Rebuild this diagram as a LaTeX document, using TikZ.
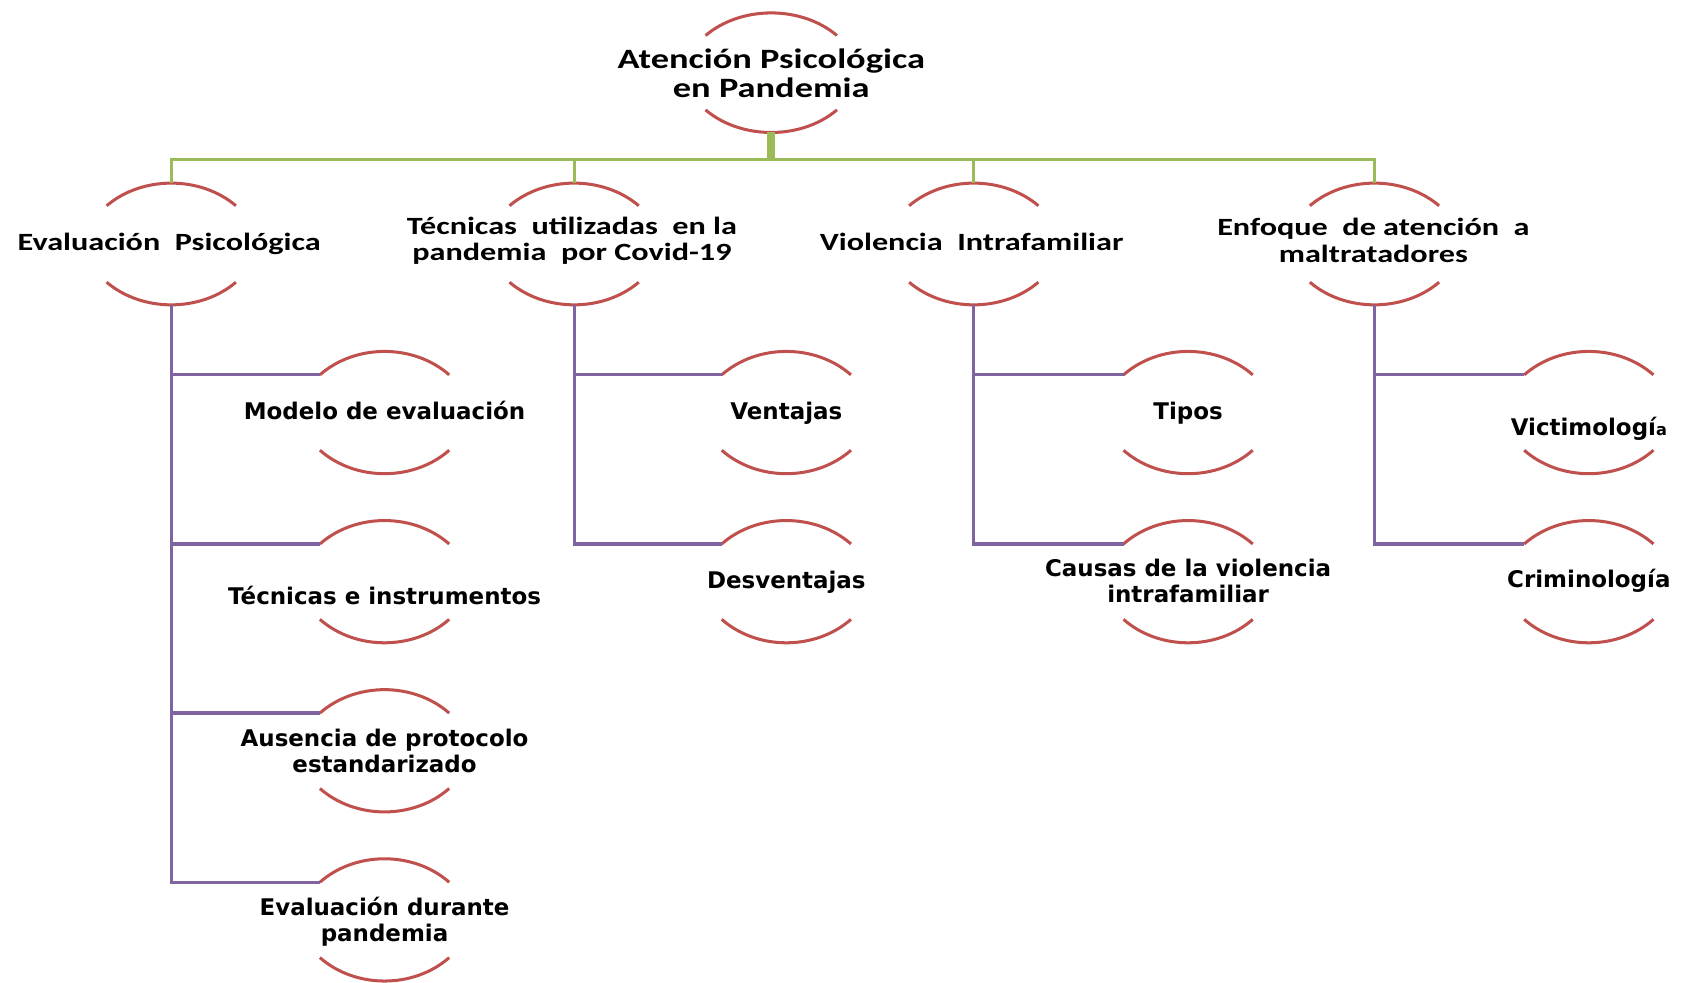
\documentclass[tikz,border=0pt]{standalone}
\usepackage{fontspec}
\newfontfamily\calb{Carlito}[FakeStretch=1.3]
\newfontfamily\vera{DejaVu Sans}
\definecolor{arcred}{RGB}{192,80,77}
\definecolor{busgreen}{RGB}{155,187,89}
\definecolor{branchpurple}{RGB}{128,100,162}
\newcommand\archpair[3]{%
  \draw[arcline] ([yshift=-#2pt]#1.north west) .. controls +(33pt,#3pt) and +(-33pt,#3pt) .. ([yshift=-#2pt]#1.north east);
  \draw[arcline] ([yshift=#2pt]#1.south west) .. controls +(33pt,-#3pt) and +(-33pt,-#3pt) .. ([yshift=#2pt]#1.south east);}
\begin{document}
\begin{tikzpicture}[x=1pt,y=-1pt,
  frame/.style={draw=none, inner sep=0pt, outer sep=0pt, minimum width=120pt, minimum height=114pt},
  topframe/.style={frame, minimum width=122pt, minimum height=111pt},
  lvlframe/.style={frame, minimum height=113pt},
  arcline/.style={draw=arcred, line width=2.8pt},
  bus/.style={draw=busgreen, line width=3pt},
  stem/.style={draw=busgreen, line width=7pt},
  branch/.style={draw=branchpurple, line width=3pt},
  toptext/.style={font=\calb\bfseries\fontsize{26}{27}\selectfont, align=center, inner sep=0pt},
  headtext/.style={font=\calb\bfseries\fontsize{23}{25}\selectfont, align=center, inner sep=0pt},
  leaftext/.style={font=\vera\bfseries\fontsize{21.3}{24}\selectfont, align=center, inner sep=0pt},
]
\fill[white] (0,0) rectangle (1568,912);
\useasboundingbox (0,0) rectangle (1568,912);

% frames
\node[topframe] (top) at (716,67.5) {};
\node[lvlframe] (A) at (159,226.5) {};
\node[lvlframe] (B) at (533,226.5) {};
\node[lvlframe] (C) at (904,226.5) {};
\node[lvlframe] (D) at (1276,226.5) {};
\node[frame] (A1) at (357,383) {};
\node[frame] (A2) at (357,540) {};
\node[frame] (A3) at (357,697) {};
\node[frame] (A4) at (357,854) {};
\node[frame] (B1) at (730,383) {};
\node[frame] (B2) at (730,540) {};
\node[frame] (C1) at (1103,383) {};
\node[frame] (C2) at (1103,540) {};
\node[frame] (D1) at (1475,383) {};
\node[frame] (D2) at (1475,540) {};

% arcs
\archpair{top}{21}{28}
\foreach \n in {A,B,C,D} {\archpair{\n}{21}{28}}
\foreach \n in {A1,A2,A3,A4,B1,B2,C1,C2,D1,D2} {\archpair{\n}{22}{29}}

% texts
\node[toptext] (topt) at (716,68) {Atención Psicológica\\en Pandemia};
\node[headtext] (At) at (157,226) {Evaluación\ \ Psicológica};
\node[headtext] (Bt) at (531,223.5) {Técnicas\ \ utilizadas\ \ en la\\pandemia\ \ por Covid-19};
\node[headtext] (Ct) at (902,225) {Violencia\ \ Intrafamiliar};
\node[headtext] (Dt) at (1275,223.5) {Enfoque\ \ de atención\ \ a\\maltratadores};
\node[leaftext] (A1t) at (357,381) {Modelo de evaluación};
\node[leaftext] (A2t) at (357,553) {Técnicas e instrumentos};
\node[leaftext] (A3t) at (357,697) {Ausencia de protocolo\\estandarizado};
\node[leaftext] (A4t) at (357,856) {Evaluación durante\\pandemia};
\node[leaftext] (B1t) at (730,384) {Ventajas};
\node[leaftext] (B2t) at (730,541) {Desventajas};
\node[leaftext] (C1t) at (1103,384) {Tipos};
\node[leaftext] (C2t) at (1103,539) {Causas de la violencia\\intrafamiliar};
\node[leaftext] (D1t) at (1475,398) {Victimologí{\fontsize{15}{15}\selectfont a}};
\node[leaftext] (D2t) at (1475,539) {Criminología};

% green connectors
\coordinate (busy) at (716,148);
\draw[stem] (top.south) -- (busy);
\draw[bus] (A.north) -- (A.north |- busy) -- (D.north |- busy) -- (D.north);
\draw[bus] (B.north) -- (B.north |- busy);
\draw[bus] (C.north) -- (C.north |- busy);

% purple connectors
\foreach \n in {A1,A2,A3,A4,B1,B2,C1,C2,D1,D2} {\coordinate (\n in) at ([yshift=-22pt]\n.north west);}
\draw[branch] (A.south) |- (A4in);
\draw[branch] (A1in) -- (A1in -| A.south);
\draw[branch] (A2in) -- (A2in -| A.south);
\draw[branch] (A3in) -- (A3in -| A.south);
\draw[branch] (B.south) |- (B2in);
\draw[branch] (B1in) -- (B1in -| B.south);
\draw[branch] (C.south) |- (C2in);
\draw[branch] (C1in) -- (C1in -| C.south);
\draw[branch] (D.south) |- (D2in);
\draw[branch] (D1in) -- (D1in -| D.south);
\end{tikzpicture}
\end{document}
